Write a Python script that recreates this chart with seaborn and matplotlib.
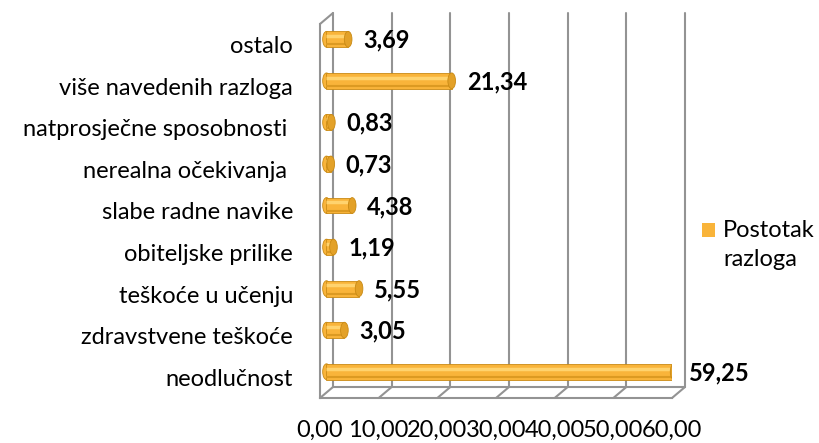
import matplotlib
matplotlib.use("Agg")
import matplotlib.pyplot as plt
import matplotlib.transforms as mtransforms
from matplotlib.patches import Ellipse, Rectangle
import seaborn as sns
import pandas as pd
import numpy as np

# data (top to bottom, as shown)
categories = ["ostalo", "više navedenih razloga", "natprosječne sposobnosti ",
              "nerealna očekivanja ", "slabe radne navike", "obiteljske prilike",
              "teškoće u učenju", "zdravstvene teškoće", "neodlučnost"]
values = [3.69, 21.34, 0.83, 0.73, 4.38, 1.19, 5.55, 3.05, 59.25]
xticks = [0, 10, 20, 30, 40, 50, 60]
series_name = "Postotak\nrazloga"

df = pd.DataFrame({"razlog": categories, "postotak": values})

sns.set_style("white")
plt.rcParams["font.family"] = ["Lato", "DejaVu Sans"]

GRAY = "#939393"
BAR = "#f9b43a"
BAR_DARK = "#c98a14"
FS = 17

fig = plt.figure(figsize=(8.2, 4.43), dpi=100)
# axes = front frame of the 3D box
ax = fig.add_axes([320 / 820, (443 - 398) / 443, 352 / 820, 374 / 443])

sns.barplot(data=df, x="postotak", y="razlog", order=categories, color=BAR,
            width=0.38, saturation=1, ax=ax, edgecolor=BAR_DARK, linewidth=0.6)

ax.set_xlim(0, 60)
ax.set_ylim(8.5, -0.5)

# depth offsets (pixels)
mid = mtransforms.offset_copy(ax.transData, fig=fig, x=6.5, y=5.5, units="dots")
back = mtransforms.offset_copy(ax.transData, fig=fig, x=13, y=11, units="dots")

# back wall gridlines and floor
lw = 1.5
for xv in xticks:
    ax.plot([xv, xv], [-0.5, 8.5], color=GRAY, lw=lw, transform=back,
            clip_on=False, zorder=0)
    p0 = ax.transData.transform((xv, 8.5))
    p1 = back.transform((xv, 8.5))
    ax.plot([p0[0], p1[0]], [p0[1], p1[1]], color=GRAY, lw=lw,
            transform=None, clip_on=False, zorder=0)
ax.plot([0, 60], [8.5, 8.5], color=GRAY, lw=lw, transform=back,
        clip_on=False, zorder=0)
p0 = ax.transData.transform((0, -0.5))
p1 = back.transform((0, -0.5))
ax.plot([p0[0], p1[0]], [p0[1], p1[1]], color=GRAY, lw=lw,
        transform=None, clip_on=False, zorder=0)

# bars moved to middle depth, with cylinder caps
for patch, val in zip(ax.patches, values):
    patch.set_transform(mid)
    patch.set_zorder(3)
    h = patch.get_height()
    yc = patch.get_y() + h / 2
    left = Ellipse((0, yc), width=1.3, height=h, facecolor=BAR,
                   edgecolor=BAR_DARK, lw=0.6, transform=mid, zorder=2.9)
    ax.add_patch(left)
    cap = Ellipse((patch.get_x() + patch.get_width(), yc), width=1.3,
                  height=h, facecolor="#e3a128", edgecolor=BAR_DARK, lw=0.6,
                  transform=mid, zorder=4)
    ax.add_patch(cap)
    ax.plot([0, val], [yc - h * 0.2] * 2, color="#ffd36e",
            lw=2.5, transform=mid, zorder=3.5, solid_capstyle="butt")
    ax.plot([0, val], [yc + h * 0.33] * 2, color="#dc9a22",
            lw=1.5, transform=mid, zorder=3.5, solid_capstyle="butt")
    ax.annotate(f"{val:.2f}".replace(".", ","), (val, yc), xycoords=mid,
                xytext=(15, -1), textcoords="offset pixels", ha="left",
                va="center", fontsize=FS, fontweight="bold", color="black")

# axes styling
for s in ["top", "right"]:
    ax.spines[s].set_visible(False)
for s in ["left", "bottom"]:
    ax.spines[s].set_color(GRAY)
    ax.spines[s].set_linewidth(lw)
    ax.spines[s].set_zorder(1)

ax.set_xticks(xticks)
ax.set_xticklabels([f"{t:.2f}".replace(".", ",") for t in xticks])
ax.tick_params(axis="x", length=6, width=lw, color=GRAY, pad=10,
               labelsize=FS, labelcolor="black")
ax.set_yticks(range(len(categories)))
ax.set_yticklabels(categories)
ax.tick_params(axis="y", which="major", length=0, pad=19.5, labelsize=FS,
               labelcolor="black")
ax.set_yticks(np.arange(-0.5, 9), minor=True)
ax.tick_params(axis="y", which="minor", length=6, width=lw, color=GRAY)
ax.set_xlabel("")
ax.set_ylabel("")
ax.grid(False)
ax.patch.set_alpha(0)

# legend key and text
fig.patches.append(Rectangle((702 / 820, (443 - 237) / 443), 13 / 820, 14 / 443,
                             facecolor=BAR, edgecolor="none",
                             transform=fig.transFigure))
fig.text(723 / 820, (443 - 220) / 443, series_name, ha="left", va="top",
         fontsize=FS, linespacing=1.45, color="black")

fig.savefig("out.png", dpi=100)
